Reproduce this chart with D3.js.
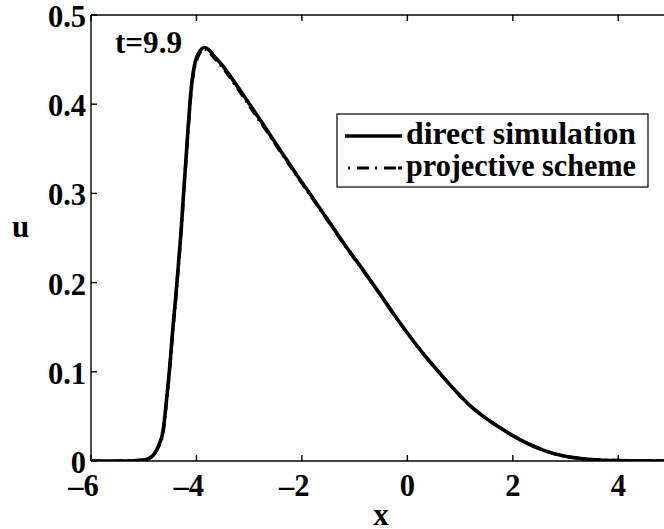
<!DOCTYPE html>
<html><head><meta charset="utf-8">
<script src="https://cdn.jsdelivr.net/npm/d3@7"></script>
<style>
html,body{margin:0;padding:0;background:#fff;}
svg{display:block;overflow:hidden;}
</style></head>
<body>
<svg id="chart" width="664" height="529"></svg>
<script>
const xValues = [-6, -5.5, -5.2, -5.0, -4.9, -4.8, -4.72, -4.63, -4.565, -4.5, -4.45, -4.39, -4.34, -4.29, -4.25, -4.205, -4.16, -4.12, -4.08, -4.04, -4.0, -3.95, -3.9, -3.86, -3.8, -3.75, -3.68, -3.5, -3.365, -3.2, -3.05, -2.8, -2.67, -2.4, -2.1, -1.8, -1.5, -1.2, -0.838, -0.5, -0.25, 0, 0.3, 0.6, 0.9, 1.2, 1.5, 1.75, 2.0, 2.2, 2.385, 2.55, 2.7, 2.85, 3.02, 3.33, 3.65, 4.0, 4.5, 5.0];
const directValues = [0, 0, 0.0003, 0.001, 0.003, 0.008, 0.017, 0.035, 0.07, 0.11, 0.147, 0.186, 0.222, 0.259, 0.295, 0.333, 0.372, 0.404, 0.428, 0.443, 0.452, 0.458, 0.462, 0.4635, 0.4625, 0.460, 0.455, 0.443, 0.432, 0.418, 0.405, 0.383, 0.3715, 0.3475, 0.321, 0.2955, 0.2695, 0.2435, 0.214, 0.1855, 0.164, 0.1435, 0.1205, 0.0995, 0.0795, 0.0615, 0.0475, 0.0375, 0.0285, 0.022, 0.0168, 0.0128, 0.0097, 0.0072, 0.005, 0.0026, 0.0012, 0.0005, 0.0001, 0];
const projectiveValues = [0, 0, 0.0003, 0.001, 0.003, 0.008, 0.016, 0.034, 0.068, 0.108, 0.145, 0.184, 0.220, 0.257, 0.293, 0.331, 0.370, 0.401, 0.425, 0.440, 0.449, 0.456, 0.460, 0.4615, 0.4605, 0.458, 0.453, 0.441, 0.430, 0.416, 0.403, 0.381, 0.370, 0.346, 0.320, 0.2945, 0.2685, 0.2428, 0.2135, 0.1852, 0.1638, 0.1433, 0.1204, 0.0994, 0.0795, 0.0615, 0.0475, 0.0375, 0.0285, 0.022, 0.0168, 0.0128, 0.0097, 0.0072, 0.005, 0.0026, 0.0012, 0.0005, 0.0001, 0];
const xTicks = [-6, -4, -2, 0, 2, 4];
const yTicks = [0, 0.1, 0.2, 0.3, 0.4, 0.5];
const seriesNames = ["direct simulation", "projective scheme"];
const timeLabel = "t=9.9";
const xLabel = "x";
const yLabel = "u";

const SERIF = "'Liberation Serif', 'Times New Roman', serif";
const svg = d3.select("#chart");
const x = d3.scaleLinear().domain([-6, 5]).range([91, 671]);
const y = d3.scaleLinear().domain([0, 0.5]).range([461, 15]);

function txt(xp, yp, s, anchor, fs, len) {
  const t = svg.append("text").attr("x", xp).attr("y", yp)
    .style("font-family", SERIF).style("font-weight", "700").style("font-size", fs + "px")
    .attr("fill", "#000").attr("text-anchor", anchor || "start").text(s);
  if (len) t.attr("textLength", len).attr("lengthAdjust", "spacingAndGlyphs");
  return t;
}

const frame = svg.append("g").attr("stroke", "#000").attr("stroke-width", 1.4).attr("fill", "none");
frame.append("line").attr("x1", x(-6)).attr("x2", x(5)).attr("y1", y(0)).attr("y2", y(0));
frame.append("line").attr("x1", x(-6)).attr("x2", x(5)).attr("y1", y(0.5)).attr("y2", y(0.5));
frame.append("line").attr("x1", x(-6)).attr("x2", x(-6)).attr("y1", y(0)).attr("y2", y(0.5));
frame.append("line").attr("x1", x(5)).attr("x2", x(5)).attr("y1", y(0)).attr("y2", y(0.5));

const tl = 6;
xTicks.forEach(t => {
  frame.append("line").attr("x1", x(t)).attr("x2", x(t)).attr("y1", y(0)).attr("y2", y(0) - tl);
  frame.append("line").attr("x1", x(t)).attr("x2", x(t)).attr("y1", y(0.5)).attr("y2", y(0.5) + tl);
});
yTicks.forEach(t => {
  frame.append("line").attr("x1", x(-6)).attr("x2", x(-6) + tl).attr("y1", y(t)).attr("y2", y(t));
  frame.append("line").attr("x1", x(5)).attr("x2", x(5) - tl).attr("y1", y(t)).attr("y2", y(t));
});

const TFS = 30.5;
xTicks.forEach(t => {
  const s = t < 0 ? "\u2013" + Math.abs(t) : String(t);
  txt(x(t) + TFS * 0.25, y(0) + 35, s, "end", TFS);
});
yTicks.forEach(t => {
  txt(x(-6) - 5, y(t) + 12, t === 0 ? "0" : d3.format(".1f")(t), "end", TFS);
});

txt(381, 525, xLabel, "middle", 31);
txt(20.5, 237, yLabel, "middle", 31);

const direct = xValues.map((v, i) => [v, directValues[i]]);
const proj = xValues.map((v, i) => [v, projectiveValues[i]]);
const line = d3.line().x(d => x(d[0])).y(d => y(d[1])).curve(d3.curveMonotoneX);
svg.append("clipPath").attr("id", "clip").append("rect")
  .attr("x", x(-6)).attr("y", y(0.5)).attr("width", x(5) - x(-6)).attr("height", y(0) - y(0.5));
const plot = svg.append("g").attr("clip-path", "url(#clip)");
plot.append("path").attr("d", line(direct)).attr("fill", "none").attr("stroke", "#000")
  .attr("stroke-width", 3.6).attr("stroke-linejoin", "round");
plot.append("path").attr("d", line(proj)).attr("fill", "none").attr("stroke", "#000")
  .attr("stroke-width", 3.2).attr("stroke-dasharray", "10,5,2,5");

txt(115, 53, timeLabel, "start", 31, 67);

const lg = svg.append("g");
lg.append("rect").attr("x", 337).attr("y", 114).attr("width", 311).attr("height", 73)
  .attr("fill", "#fff").attr("stroke", "#000").attr("stroke-width", 1.2);
const rowsY = [136, 168];
lg.append("line").attr("x1", 345).attr("x2", 402).attr("y1", rowsY[0]).attr("y2", rowsY[0])
  .attr("stroke", "#000").attr("stroke-width", 3.6);
lg.append("line").attr("x1", 348).attr("x2", 402).attr("y1", rowsY[1]).attr("y2", rowsY[1])
  .attr("stroke", "#000").attr("stroke-width", 3.2).attr("stroke-dasharray", "2,7,12,6,2,7,12");
seriesNames.forEach((n, i) => { txt(406, rowsY[i] + 8, n, "start", 31, 230); });
</script>
</body></html>
